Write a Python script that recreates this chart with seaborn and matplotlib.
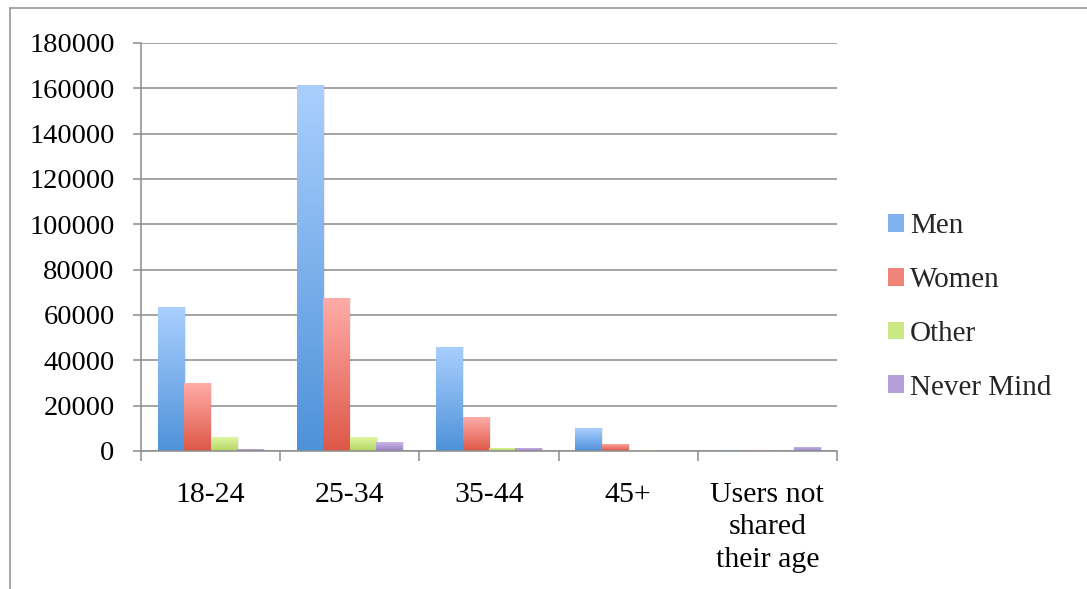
import numpy as np
import pandas as pd
import matplotlib
matplotlib.use("Agg")
import matplotlib.pyplot as plt
import seaborn as sns
from matplotlib.lines import Line2D
from matplotlib.patches import Patch
from matplotlib.colors import LinearSegmentedColormap

categories = ["18-24", "25-34", "35-44", "45+", "Users not\nshared\ntheir age"]
series = ["Men", "Women", "Other", "Never Mind"]
men = [63500, 161400, 45900, 10100, 300]
women = [30000, 67500, 15000, 3200, 300]
other = [6200, 6200, 1400, 500, 0]
never_mind = [900, 4100, 1400, 400, 1800]

top_colors = ["#aacffe", "#ffaca8", "#e2f9a4", "#d0bdec"]
bottom_colors = ["#4e92d9", "#dd5747", "#b2d462", "#9880c1"]
mid_colors = ["#7fb2ee", "#f08378", "#cbe884", "#b49fd8"]

df = pd.DataFrame({
    "Age": categories * 4,
    "Gender": sum([[s] * len(categories) for s in series], []),
    "Users": men + women + other + never_mind,
})

sns.set_style("white")
plt.rcParams["font.family"] = ["Liberation Serif", "DejaVu Serif"]

fig = plt.figure(figsize=(10.87, 5.89), dpi=100)
ax = fig.add_axes([141 / 1087, 1 - 451 / 589, (837 - 141) / 1087, (451 - 43) / 589])

sns.barplot(data=df, x="Age", y="Users", hue="Gender", hue_order=series,
            order=categories, palette=mid_colors, width=0.76, ax=ax,
            legend=False, saturation=1, errorbar=None, linewidth=0)

ax.set_ylim(0, 180000)
ax.set_xlim(-0.5, len(categories) - 0.5)
ax.set_yticks(np.arange(0, 180001, 20000))
ax.set_yticklabels([f"{int(v)}" for v in np.arange(0, 180001, 20000)])
ax.set_xlabel("")
ax.set_ylabel("")

# gradient fills for bars
for ci, container in enumerate(ax.containers):
    cmap = LinearSegmentedColormap.from_list(f"g{ci}", [bottom_colors[ci], top_colors[ci]])
    grad = np.linspace(0, 1, 256).reshape(-1, 1)
    for bar in container:
        x0, y0 = bar.get_x(), bar.get_y()
        w, h = bar.get_width(), bar.get_height()
        if h <= 0:
            continue
        sh = plt.Rectangle((x0 + w * 0.06, y0), w, h, facecolor="#000000", alpha=0.08,
                           edgecolor="none", zorder=1.5)
        ax.add_patch(sh)
        im = ax.imshow(grad, extent=[x0, x0 + w, y0, y0 + h], origin="lower",
                       cmap=cmap, aspect="auto", zorder=2.5, interpolation="bilinear")
        im.set_clip_path(bar)
ax.set_xlim(-0.5, len(categories) - 0.5)
ax.set_ylim(0, 180000)

ax.yaxis.grid(True, color="#8c8c8c", linewidth=1.1)
ax.set_axisbelow(True)
for s in ["top", "right"]:
    ax.spines[s].set_visible(False)
for s in ["left", "bottom"]:
    ax.spines[s].set_color("#8c8c8c")
    ax.spines[s].set_linewidth(1.1)

ax.tick_params(axis="y", which="major", length=6, width=1.1, color="#8c8c8c",
               left=True, pad=13, labelsize=20.5, labelcolor="black")
ax.set_xticks(np.arange(-0.5, len(categories), 1), minor=True)
ax.tick_params(axis="x", which="minor", length=7, width=1.1, color="#8c8c8c", bottom=True)
ax.tick_params(axis="x", which="major", length=0, pad=22, labelsize=21.5, labelcolor="black")
for lbl in ax.get_xticklabels():
    lbl.set_verticalalignment("top")
    lbl.set_linespacing(1.33)

handles = [Patch(facecolor=mid_colors[i], edgecolor="none", label=series[i]) for i in range(4)]
leg = fig.legend(handles=handles, loc="center left", bbox_to_anchor=(862 / 1087, 1 - 307 / 589),
                 frameon=False, fontsize=21, handlelength=0.55, handleheight=0.55,
                 handletextpad=0.2, labelspacing=0.95)

# outer frame
fig.add_artist(Line2D([10 / 1087, 1.0], [1 - 8 / 589, 1 - 8 / 589], color="#a0a0a0", linewidth=1.3))
fig.add_artist(Line2D([10 / 1087, 10 / 1087], [0, 1 - 8 / 589], color="#a0a0a0", linewidth=1.3))

fig.savefig("out.png", dpi=100, facecolor="white")
